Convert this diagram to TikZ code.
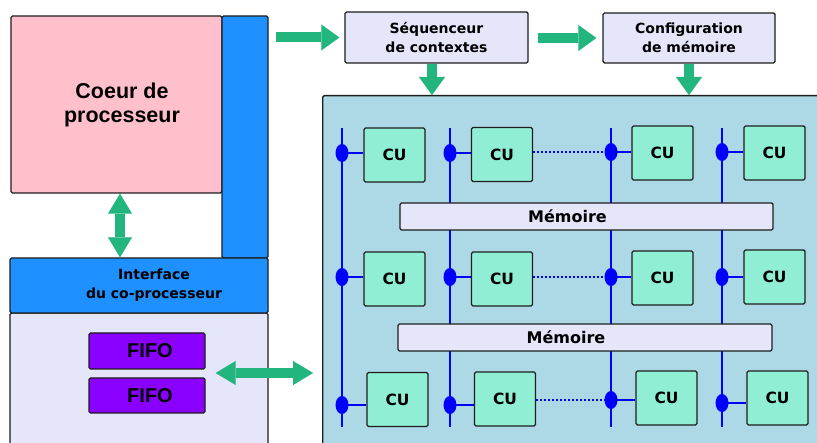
\documentclass[tikz,border=0pt]{standalone}
\usepackage{fontspec}
\setmainfont{DejaVu Sans}
\newfontfamily\arialfont{Liberation Sans}
\usetikzlibrary{arrows.meta,shapes.geometric}

\definecolor{corepink}{RGB}{255,192,203}
\definecolor{ifblue}{RGB}{30,144,255}
\definecolor{lavbox}{RGB}{230,230,250}
\definecolor{fifoviolet}{RGB}{138,0,255}
\definecolor{panelblue}{RGB}{173,216,230}
\definecolor{cugreen}{RGB}{144,238,212}
\definecolor{flowgreen}{RGB}{34,182,126}
\definecolor{busblue}{RGB}{0,0,255}
\definecolor{edge}{RGB}{30,30,30}

\tikzset{
  blk/.style={draw=edge, line width=1.4pt, rounded corners=1.5pt, rectangle, inner sep=0pt, align=center},
  cubox/.style={blk, fill=cugreen, minimum width=61pt, minimum height=54pt,
    font=\fontsize{15.5}{18}\selectfont\bfseries},
  membox/.style={blk, fill=lavbox, minimum height=27pt},
  busdot/.style={ellipse, fill=busblue, draw=none, minimum width=13pt, minimum height=18pt, inner sep=0pt},
  busline/.style={draw=busblue, line width=2pt},
  dotlink/.style={draw=busblue, line width=2pt, dotted},
  flow/.style={draw=flowgreen, line width=10pt, -{Triangle[length=18pt,width=26pt,line width=0.1pt]}},
  flowboth/.style={draw=flowgreen, line width=10pt,
    {Triangle[length=20pt,width=24pt,line width=0.1pt]}-{Triangle[length=20pt,width=24pt,line width=0.1pt]}},
  midfont/.style={font=\fontsize{14}{19}\selectfont\bfseries},
}

\begin{document}
\begin{tikzpicture}[x=1pt,y=-1pt]
\useasboundingbox (0,0) rectangle (817,443);
\clip (0,0) rectangle (817,443);
\fill[white] (0,0) rectangle (817,443);

% processor side
\node[blk, fill=corepink, minimum width=211pt, minimum height=177pt,
      font=\arialfont\fontsize{21.5}{24}\selectfont\bfseries] (core) at (116.5,104.5)
      {\hspace*{11pt}Coeur de\\\hspace*{11pt}processeur};
\node[blk, fill=ifblue, minimum width=46pt, minimum height=242pt] (bar) at (245,137) {};
\node[blk, fill=lavbox, minimum width=258pt, minimum height=150pt] (lower) at (139,388) {};
\node[blk, fill=ifblue, minimum width=258pt, minimum height=55pt,
      font=\fontsize{14}{19}\selectfont\bfseries] (iface) at (139,285.5)
      {\hspace*{30pt}Interface\\\hspace*{30pt}du co-processeur};
\node[blk, fill=fifoviolet, minimum width=116pt, minimum height=36pt,
      font=\arialfont\fontsize{20}{24}\selectfont\bfseries] (fifoA) at (147,351) {\hspace*{6pt}FIFO};
\node[blk, fill=fifoviolet, minimum width=116pt, minimum height=35pt,
      font=\arialfont\fontsize{20}{24}\selectfont\bfseries] (fifoB) at (147,395.5) {\hspace*{6pt}FIFO};

% control blocks
\node[blk, fill=lavbox, minimum width=183pt, minimum height=51pt, midfont] (seq) at (436.5,37.5)
      {Séquenceur\\de contextes};
\node[blk, fill=lavbox, minimum width=172pt, minimum height=50pt, midfont] (cfg) at (689,38)
      {Configuration\\de mémoire};

% reconfigurable array
\node[blk, fill=panelblue, minimum width=540pt, minimum height=400pt, anchor=north west] (panel) at (322,95) {};

% bus lines
\foreach \c/\x in {1/342,2/450,3/611,4/722}{
  \coordinate (top\c) at (\x,128);
  \coordinate (bot\c) at (\x,427);
  \draw[busline] (top\c) -- (bot\c);
}

% shared memories
\node[membox, minimum width=373pt, label={[xshift=-19pt, font=\fontsize{16}{19}\selectfont\bfseries]center:Mémoire}] (memA) at (586.5,216.5) {};
\node[membox, minimum width=374pt, label={[xshift=-19pt, font=\fontsize{16}{19}\selectfont\bfseries]center:Mémoire}] (memB) at (585,337.5) {};

% compute units
\foreach \r/\c/\x/\y in {1/1/394.5/155, 1/2/502/154.5, 1/3/662.5/153, 1/4/774.5/153,
                         2/1/394.5/279, 2/2/502/279, 2/3/662.5/278, 2/4/774.5/277,
                         3/1/397.5/399.5, 3/2/505/399, 3/3/666.5/398, 3/4/777.5/398}{
  \node[cubox] (cu\r\c) at (\x,\y) {CU};
}

% bus taps
\foreach \r/\c/\x/\y in {1/1/342/153, 1/2/450/153, 1/3/611/152, 1/4/722/152,
                         2/1/342/277, 2/2/450/277, 2/3/611/277, 2/4/722/277,
                         3/1/342/405, 3/2/450/405, 3/3/611/400, 3/4/722/403}{
  \node[busdot] (d\r\c) at (\x,\y) {};
  \draw[busline] (d\r\c.center) -- (d\r\c.center -| cu\r\c.west);
}
\foreach \r in {1,2,3}{
  \draw[dotlink] (d\r3.center -| cu\r2.east) -- (d\r3.center);
}

% data and control flow
\draw[flow] ([xshift=7pt]bar.east |- seq.west) -- ([xshift=-5pt]seq.west);
\draw[flow] ([xshift=9pt]seq.east |- cfg.west) -- ([xshift=-6pt]cfg.west);
\draw[flow] ([xshift=-4.5pt]seq.south) -- ([xshift=-4.5pt]seq.south |- panel.north);
\draw[flow] (cfg.south) -- (cfg.south |- panel.north);
\draw[flowboth] (core.south -| 120,0) -- (iface.north -| 120,0);
\draw[flowboth] ([xshift=10pt]fifoA.east |- 0,373) -- ([xshift=-9pt]panel.west |- 0,373);
\end{tikzpicture}
\end{document}
